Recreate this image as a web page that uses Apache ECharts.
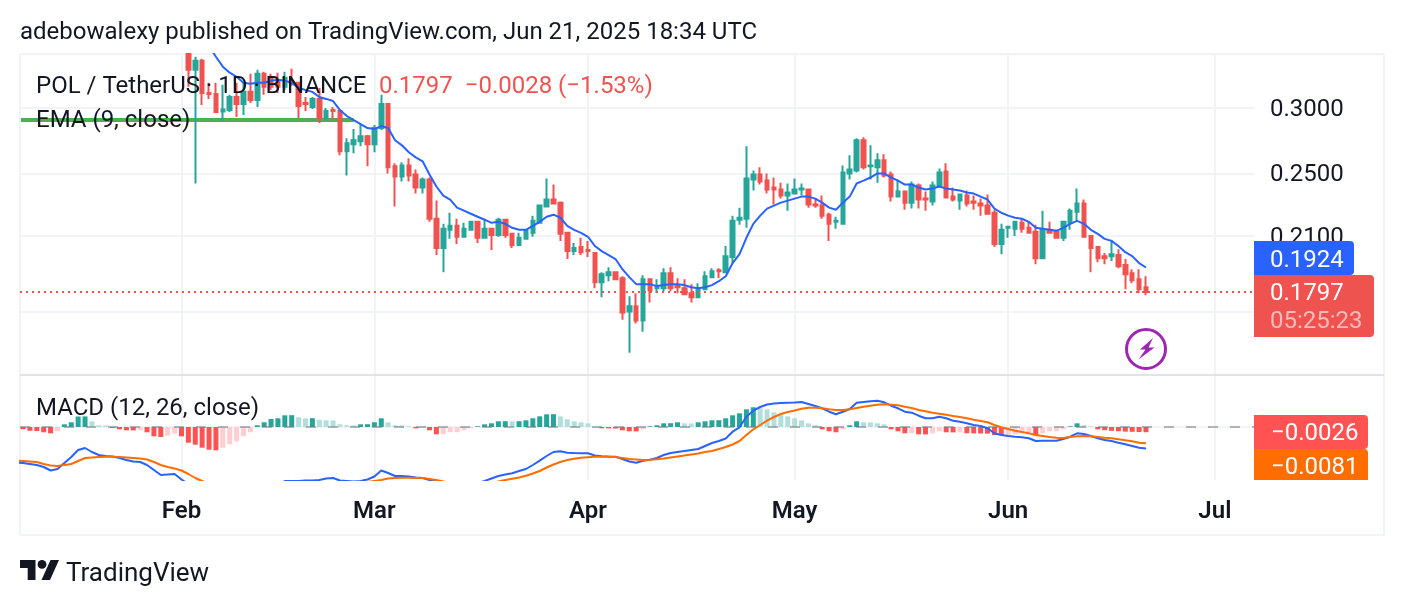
<!DOCTYPE html>
<html>
<head>
<meta charset="utf-8">
<title>POL / TetherUS 1D</title>
<style>
html,body{margin:0;padding:0;background:#fff}
#chart{width:1404px;height:606px}
</style>
<script src="https://cdn.jsdelivr.net/npm/echarts@6/dist/echarts.min.js"></script>
</head>
<body>
<div id="chart"></div>
<script>
// Daily candles, 2 Feb 2025 to 21 Jun 2025
const opens = [
.3487,.3337,.3423,.3129,.3120,.2971,.2983,.3094,.3034,.3138,
.3068,.3300,.3263,.3236,.3182,.3227,.3218,.3042,.3008,.3077,
.2917,.2983,.2975,.2660,.2712,.2734,.2774,.2712,.2837,.3034,
.2550,.2479,.2557,.2493,.2404,.2458,.2204,.2031,.2137,.2161,
.2096,.2137,.2185,.2090,.2143,.2107,.2198,.2113,.2048,.2084,
.2119,.2179,.2280,.2325,.2305,.2119,.2014,.2037,.2020,.2003,
.1847,.1883,.1899,.1868,.1702,.1727,.1660,.1862,.1816,.1816,
.1894,.1827,.1816,.1791,.1771,.1811,.1873,.1909,.1899,.1981,
.2198,.2204,.2458,.2493,.2451,.2404,.2391,.2351,.2364,.2391,
.2391,.2293,.2286,.2229,.2185,.2173,.2500,.2521,.2742,.2550,
.2543,.2593,.2493,.2344,.2377,.2305,.2417,.2331,.2312,.2411,
.2514,.2344,.2318,.2351,.2312,.2299,.2286,.2241,.2054,.2149,
.2143,.2179,.2149,.2125,.1975,.2137,.2125,.2090,.2179,.2248,
.2299,.2101,.2037,.1986,.1986,.1992,.1937,.1894,.1862,.1821];
const closes = [
.3337,.3423,.3129,.3120,.2967,.2988,.3094,.3034,.3138,.3068,
.3300,.3182,.3182,.3182,.3263,.3218,.3017,.3034,.3077,.2917,
.2975,.2975,.2660,.2719,.2742,.2774,.2712,.2837,.3034,.2543,
.2479,.2557,.2486,.2404,.2458,.2204,.2031,.2143,.2161,.2096,
.2143,.2185,.2090,.2143,.2107,.2198,.2107,.2048,.2090,.2131,
.2191,.2286,.2325,.2299,.2113,.2014,.2031,.2008,.2014,.1847,
.1888,.1899,.1862,.1697,.1727,.1660,.1862,.1806,.1821,.1894,
.1816,.1821,.1786,.1771,.1811,.1878,.1904,.1904,.1986,.2191,
.2210,.2465,.2493,.2444,.2391,.2391,.2351,.2371,.2391,.2397,
.2293,.2286,.2223,.2173,.2191,.2507,.2528,.2742,.2543,.2557,
.2593,.2486,.2344,.2377,.2305,.2424,.2325,.2325,.2417,.2507,
.2338,.2325,.2358,.2299,.2305,.2286,.2235,.2054,.2137,.2155,
.2185,.2143,.2119,.1975,.2137,.2119,.2090,.2185,.2254,.2299,
.2096,.2031,.1975,.1975,.1997,.1931,.1888,.1857,.1811,.1797];
const highs = [
.3487,.3460,.3441,.3218,.3218,.3200,.3112,.3218,.3218,.3300,
.3337,.3319,.3300,.3310,.3319,.3347,.3227,.3094,.3094,.3173,
.3000,.3008,.2983,.2758,.2829,.2869,.2782,.2861,.3112,.3042,
.2572,.2579,.2608,.2528,.2472,.2472,.2318,.2173,.2241,.2204,
.2179,.2191,.2191,.2204,.2143,.2210,.2204,.2119,.2119,.2137,
.2223,.2293,.2465,.2424,.2312,.2119,.2060,.2090,.2072,.2008,
.1899,.1926,.1904,.1878,.1776,.1791,.1883,.1868,.1862,.1920,
.1926,.1868,.1862,.1837,.1842,.1904,.1920,.1920,.2043,.2223,
.2273,.2697,.2521,.2543,.2500,.2472,.2437,.2431,.2465,.2431,
.2397,.2331,.2351,.2241,.2216,.2557,.2630,.2758,.2766,.2704,
.2645,.2637,.2514,.2458,.2377,.2444,.2431,.2377,.2444,.2535,
.2572,.2404,.2364,.2384,.2351,.2331,.2358,.2260,.2173,.2161,
.2191,.2204,.2185,.2167,.2254,.2185,.2137,.2191,.2267,.2397,
.2325,.2101,.2043,.2003,.2078,.2025,.1970,.1915,.1915,.1878];
const lows = [
.3182,.2431,.3025,.3077,.2959,.2893,.2967,.2926,.2942,.3042,
.3008,.3112,.3155,.3129,.3155,.3191,.2917,.2975,.2992,.2877,
.2901,.2909,.2630,.2486,.2645,.2697,.2550,.2652,.2821,.2500,
.2280,.2444,.2444,.2364,.2364,.2185,.1992,.1899,.2084,.2054,
.2096,.2131,.2060,.2090,.2020,.2096,.2090,.2031,.2048,.2084,
.2096,.2179,.2280,.2293,.2072,.1970,.1992,.1992,.1981,.1816,
.1771,.1852,.1857,.1664,.1517,.1646,.1609,.1746,.1791,.1801,
.1801,.1791,.1786,.1746,.1766,.1811,.1873,.1868,.1899,.1948,
.2167,.2149,.2384,.2424,.2364,.2293,.2331,.2254,.2364,.2351,
.2273,.2273,.2204,.2072,.2143,.2167,.2458,.2507,.2528,.2458,
.2437,.2472,.2312,.2338,.2260,.2267,.2267,.2254,.2286,.2404,
.2331,.2312,.2260,.2280,.2260,.2223,.2235,.2037,.1997,.2090,
.2101,.2119,.2113,.1942,.1975,.2119,.2084,.2072,.2137,.2191,
.2090,.1899,.1953,.1942,.1959,.1920,.1811,.1842,.1791,.1781];

// EMA(9) from 5 Feb onward; earlier values sit above the visible range
const emaValues = [
.3565,.3460,.3366,.3310,.3273,.3218,.3209,.3218,.3218,.3236,.3245,
.3236,.3218,.3173,.3155,.3138,.3094,.3077,.3059,.2983,.2934,
.2901,.2869,.2837,.2829,.2853,.2837,.2742,.2704,.2652,.2615,
.2586,.2493,.2411,.2351,.2325,.2273,.2254,.2235,.2216,.2198,
.2179,.2185,.2173,.2149,.2137,.2137,.2161,.2185,.2216,.2229,
.2210,.2161,.2137,.2119,.2096,.2043,.2014,.1992,.1970,.1915,
.1873,.1837,.1837,.1837,.1827,.1832,.1837,.1837,.1832,.1821,
.1816,.1821,.1832,.1852,.1878,.1948,.1997,.2090,.2173,.2223,
.2267,.2286,.2305,.2318,.2331,.2344,.2344,.2331,.2305,.2273,
.2260,.2305,.2344,.2431,.2451,.2472,.2500,.2500,.2472,.2451,
.2424,.2424,.2404,.2391,.2397,.2411,.2397,.2391,.2384,.2371,
.2364,.2344,.2325,.2267,.2241,.2223,.2210,.2204,.2185,.2149,
.2143,.2137,.2131,.2149,.2173,.2191,.2173,.2137,.2113,.2084,
.2072,.2043,.2008,.1986,.1948,.1924];
const emaFirstDay = 4;

// Flat EMA segment on the far left of the price pane
const flatEmaDays = [-23.3, 25];
const flatEmaValues = [.2901, .2901];

// MACD histogram, 9 Jan 2025 to 21 Jun 2025
const histogram = [
-.00115,-.0019,-.0020,-.00265,-.00315,-.00215,.00135,.00235,.00525,.0053,
.00285,.00085,.0008,-.0005,-.00115,-.00165,-.0017,-.0016,-.00265,-.00465,
-.005,-.00435,-.00335,
-.00465,-.00785,-.00885,-.01035,-.01135,-.01165,-.01035,-.00865,-.00715,-.00465,-.00265,
.00085,.00235,.004,.00435,.00585,.0059,.00485,.00435,.0044,.00365,
.00335,.0033,.00135,.00085,.0008,.00135,.0014,.00235,.00435,.00235,
.00085,.0008,.00035,-.00065,-.00035,-.00165,-.00365,-.0036,-.00265,-.0026,
-.00165,-.00065,.00035,.00135,.00185,.00285,.0029,.00285,.0029,.00335,
.00435,.00535,.00635,.0064,.00535,.00385,.00285,.00235,.00185,.00025,
-.00065,-.0007,-.00075,-.00165,-.00215,-.0022,-.00115,.00035,.00085,.00185,
.0019,.00235,.00185,.0018,.00235,.00285,.00335,.0034,.00435,.00585,
.00685,.00885,.00985,.00935,.00885,.00735,.00635,.00535,.00435,.00335,
.00185,.00085,-.00115,-.00215,-.00265,-.00115,.00085,.00285,.00235,.0023,
.00185,.00135,-.00115,-.00215,-.00315,-.0031,-.00365,-.0037,-.00315,-.00215,
-.00265,-.0027,-.00265,-.00315,-.0032,-.00325,-.0033,-.004,-.00415,-.0041,
-.00365,-.00315,-.00265,-.00415,-.00315,-.00215,-.0021,-.00115,.00035,.00185,
.00085,.00035,-.0012,-.0016,-.0019,-.0021,-.0023,-.0024,-.0025,-.0026];
const histogramFirstDay = -23;

// MACD line, 8 Jan 2025 to 21 Jun 2025
const macdLine = [
-.01775,
-.018,-.0185,-.019,-.02,-.02175,-.021,-.018,-.015,-.0115,-.0105,
-.0125,-.014,-.0145,-.01475,-.0155,-.0165,-.01725,-.0175,-.019,-.0215,
-.024,-.02375,-.0235,
-.02625,-.0285,-.0315,-.035,-.04,-.042,-.043,-.0425,-.042,-.04,-.0385,
-.0345,-.033,-.0305,-.0295,-.027,-.027,-.027,-.02675,-.02675,-.0265,
-.02575,-.0255,-.02675,-.027,-.02725,-.027,-.02625,-.02475,-.02175,-.023,
-.0245,-.0245,-.02475,-.02525,-.0255,-.0265,-.0275,-.0285,-.0295,-.0295,
-.029,-.0285,-.028,-.027,-.02575,-.0245,-.02375,-.02315,-.022,-.021,
-.019,-.01685,-.0145,-.0125,-.01215,-.01285,-.013,-.0131,-.01315,-.01425,
-.0146,-.01475,-.01485,-.016,-.01725,-.01785,-.01685,-.01635,-.0155,-.014,
-.013,-.0125,-.012,-.0115,-.011,-.0095,-.008,-.007,-.00575,-.00235,
-.00015,.00515,.00815,.01,.01125,.01175,.012,.01215,.0123,.0125,
.0115,.0105,.00935,.00765,.00635,.00765,.009,.01215,.0125,.01285,
.01315,.01235,.01065,.00935,.00765,.00715,.00565,.00435,.00435,.00515,
.00435,.00315,.00265,.00185,.001,.0005,-.00065,-.00315,-.004,-.0045,
-.00485,-.00515,-.00565,-.007,-.00685,-.00685,-.00685,-.006,-.00485,-.00315,
-.0035,-.0045,-.00565,-.0065,-.007,-.00785,-.00865,-.0095,-.01035,-.0107];

// Signal line, same dates as the MACD line
const signalLine = [
-.0168,
-.017,-.01725,-.0175,-.0185,-.01925,-.0195,-.019,-.0185,-.017,-.0155,
-.01525,-.015,-.01485,-.01485,-.015,-.01525,-.0155,-.01575,-.01625,-.0175,
-.019,-.02,-.02075,
-.02175,-.0235,-.0255,-.027,-.0285,-.0305,-.0325,-.034,-.035,-.0355,-.03575,
-.0355,-.03525,-.0345,-.034,-.033,-.032,-.031,-.03025,-.0295,-.029,
-.0285,-.028,-.028,-.028,-.028,-.02775,-.0275,-.027,-.0265,-.02575,
-.0255,-.02535,-.02535,-.0255,-.0255,-.026,-.0265,-.02725,-.028,-.0285,
-.02875,-.029,-.029,-.02875,-.028,-.02725,-.0265,-.02585,-.02525,-.02435,
-.02325,-.022,-.02025,-.01875,-.0175,-.0165,-.01585,-.01535,-.0151,-.0149,
-.01485,-.0149,-.015,-.0155,-.016,-.01625,-.0165,-.0164,-.01615,-.01575,
-.01525,-.01475,-.01425,-.01375,-.01325,-.0125,-.012,-.011,-.01,-.00875,
-.007,-.004,-.00115,.001,.00315,.005,.0065,.0075,.00825,.00915,
.00965,.00965,.00935,.00885,.0085,.0085,.00885,.0095,.01015,.01065,
.01115,.01135,.01115,.01085,.01015,.0095,.0085,.00785,.00715,.00665,
.00615,.0055,.005,.00435,.00365,.003,.00235,.001,-.00015,-.001,
-.00185,-.0025,-.00315,-.004,-.0045,-.005,-.00535,-.0055,-.005,-.00465,
-.0045,-.00465,-.005,-.00535,-.00565,-.00615,-.00665,-.00715,-.00785,-.0081];
const macdFirstDay = -24;

// The x axis counts days from 1 Feb 2025
const monthLabels = ['Feb', 'Mar', 'Apr', 'May', 'Jun', 'Jul'];
const monthDays = [0, 28, 59, 89, 120, 150];
const priceGridValues = [0.17, 0.21, 0.25, 0.30];
const priceLabelValues = [0.21, 0.25, 0.30];
const lastClose = 0.1797;

const axisMin = -23.44;
const axisMax = 155.68;

const UP = '#26a69a', DOWN = '#ef5350', BLUE = '#2962ff', ORANGE = '#ff6d00';
const GRID = '#f1f3f6', INK = '#131722', FONT = 'Roboto';

const candleData = opens.map((o, i) => [i + 1, o, closes[i], lows[i], highs[i]]);
const histColor = (v, prev) => v >= 0 ? (v > prev ? '#26a69a' : '#b2dfdb') : (v < prev ? '#ff5252' : '#ffcdd2');
const histData = histogram.map((v, i) => ({
  value: [histogramFirstDay + i, v],
  itemStyle: { color: histColor(v, i ? histogram[i - 1] : 0) }
}));
const lineData = (values, first) => values.map((v, i) => [first + i, v]);

const text = (x, y, t, o) => ({
  type: 'text', z: 50, x, y,
  style: Object.assign({ text: t, font: `24px ${FONT}`, fill: INK, textVerticalAlign: 'middle' }, o || {})
});
const rule = (x1, y1, x2, y2, color) => ({
  type: 'line', z: 1, shape: { x1, y1, x2, y2 }, style: { stroke: color, lineWidth: 2 }
});
const tag = (x, y, width, height, fill, r) => ({
  type: 'rect', z: 40, shape: { x, y, width, height, r }, style: { fill }
});

const chart = echarts.init(document.getElementById('chart'));
chart.setOption({
  animation: false,
  backgroundColor: '#ffffff',
  textStyle: { fontFamily: FONT },
  grid: [
    { left: 20, width: 1234, top: 54, height: 321 },
    { left: 20, width: 1234, top: 375, height: 105 }
  ],
  xAxis: [0, 1].map(i => ({
    type: 'value', gridIndex: i, min: axisMin, max: axisMax,
    axisLine: { show: false },
    axisTick: { show: false, customValues: monthDays },
    splitLine: { show: true, lineStyle: { color: GRID, width: 2 } },
    minorSplitLine: { show: false },
    axisLabel: i === 1 ? {
      show: true, customValues: monthDays, margin: 20, hideOverlap: false,
      color: INK, fontSize: 24, fontWeight: 600, fontFamily: FONT,
      formatter: v => monthLabels[monthDays.indexOf(v)] || ''
    } : { show: false }
  })),
  yAxis: [
    {
      type: 'log', gridIndex: 0, position: 'right', logBase: 10, min: 0.14263, max: 0.3487,
      axisLine: { show: false },
      axisTick: { show: false, customValues: priceGridValues },
      splitLine: { show: true, lineStyle: { color: GRID, width: 2 } },
      minorSplitLine: { show: false },
      axisLabel: {
        show: true, customValues: priceLabelValues, margin: 16, color: INK,
        verticalAlign: 'top', lineHeight: 4,
        fontSize: 24, fontFamily: FONT, formatter: v => Number(v).toFixed(4)
      }
    },
    {
      type: 'value', gridIndex: 1, position: 'right', min: -0.0265, max: 0.026,
      axisLine: { show: false },
      axisTick: { show: false, customValues: [0] },
      splitLine: { show: true, lineStyle: { color: GRID, width: 2 } },
      axisLabel: { show: false }
    }
  ],
  series: [
    {
      name: 'EMA flat', type: 'line', xAxisIndex: 0, yAxisIndex: 0, z: 2,
      data: flatEmaDays.map((d, i) => [d, flatEmaValues[i]]),
      showSymbol: false, symbol: 'none', lineStyle: { color: '#4caf50', width: 4, cap: 'butt' }, silent: true
    },
    {
      name: 'POL', type: 'candlestick', xAxisIndex: 0, yAxisIndex: 0, z: 3,
      data: candleData, encode: { x: 0, y: [1, 2, 3, 4] }, barWidth: 4, clip: true,
      itemStyle: { color: UP, color0: DOWN, borderColor: UP, borderColor0: DOWN, borderWidth: 2 },
      markLine: {
        silent: true, symbol: 'none', animation: false, label: { show: false },
        lineStyle: { color: DOWN, type: [2, 4], width: 2 },
        data: [{ yAxis: lastClose }]
      }
    },
    {
      name: 'EMA', type: 'line', xAxisIndex: 0, yAxisIndex: 0, z: 4,
      data: lineData(emaValues, emaFirstDay), showSymbol: false, symbol: 'none',
      lineStyle: { color: BLUE, width: 2 }
    },
    {
      name: 'Histogram', type: 'bar', xAxisIndex: 1, yAxisIndex: 1, z: 2,
      data: histData, barWidth: 5,
      markLine: {
        silent: true, symbol: 'none', animation: false, label: { show: false },
        lineStyle: { color: 'rgba(120,123,134,0.55)', type: [10, 12], width: 2 },
        data: [{ yAxis: 0 }]
      }
    },
    {
      name: 'MACD', type: 'line', xAxisIndex: 1, yAxisIndex: 1, z: 3,
      data: lineData(macdLine, macdFirstDay), showSymbol: false, symbol: 'none',
      lineStyle: { color: BLUE, width: 2 }
    },
    {
      name: 'Signal', type: 'line', xAxisIndex: 1, yAxisIndex: 1, z: 4,
      data: lineData(signalLine, macdFirstDay), showSymbol: false, symbol: 'none',
      lineStyle: { color: ORANGE, width: 2 }
    }
  ],
  graphic: [
    // frame and pane separator
    rule(20, 54, 1384, 54, GRID),
    rule(20, 535, 1384, 535, GRID),
    rule(20, 54, 20, 535, GRID),
    rule(1384, 54, 1384, 535, GRID),
    rule(20, 375, 1384, 375, '#e0e3eb'),

    // header and legends
    text(20, 33, 'adebowalexy published on TradingView.com, Jun 21, 2025 18:34 UTC'),
    text(36, 87, 'POL / TetherUS · 1D · BINANCE'),
    text(379, 87, '0.1797  −0.0028 (−1.53%)', { fill: DOWN }),
    text(36, 121, 'EMA (9, close)'),
    text(36, 409, 'MACD (12, 26, close)'),

    // last-value tags on the price scale
    tag(1254, 241, 100, 34, BLUE, [0, 4, 4, 0]),
    tag(1254, 275, 120, 62, '#ef5350', [0, 4, 4, 0]),
    tag(1254, 415, 114, 34, '#ff5252', [0, 4, 4, 0]),
    tag(1254, 449, 114, 31, ORANGE, [0, 4, 0, 0]),
    text(1270, 261, '0.1924', { fill: '#fff' }),
    text(1270, 294, '0.1797', { fill: '#fff' }),
    text(1270, 322, '05:25:23', { fill: 'rgba(255,255,255,0.6)' }),
    text(1271, 434, '−0.0026', { fill: '#fff' }),
    text(1271, 468, '−0.0081', { fill: '#fff' }),

    // flash badge
    { type: 'circle', z: 30, shape: { cx: 1146, cy: 349, r: 19.5 },
      style: { fill: '#fff', stroke: '#9c27b0', lineWidth: 3 } },
    { type: 'polygon', z: 31,
      shape: { points: [[1153, 338], [1140, 349.5], [1145.5, 349.5], [1138.5, 359.5], [1154.5, 347.5], [1148.5, 347.5]] },
      style: { fill: '#9c27b0' } },

    // brand mark
    { type: 'polygon', z: 30,
      shape: { points: [[20, 560], [35.5, 560], [35.5, 580], [27.7, 580], [27.7, 568], [20, 568]] },
      style: { fill: INK } },
    { type: 'polygon', z: 30,
      shape: { points: [[50.5, 560], [59, 560], [50, 580], [41.5, 580]] },
      style: { fill: INK } },
    { type: 'circle', z: 30, shape: { cx: 42, cy: 564.4, r: 4.4 }, style: { fill: INK } },
    text(66, 574, 'TradingView', { font: `26px ${FONT}` })
  ]
});
</script>
</body>
</html>
